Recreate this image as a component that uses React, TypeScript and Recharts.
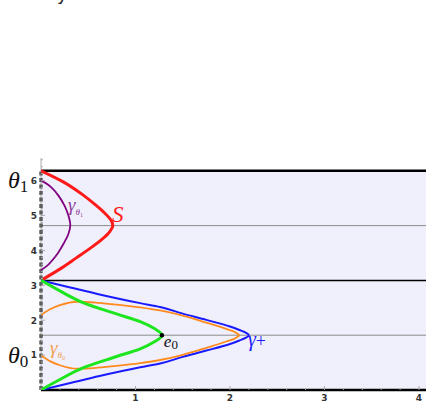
import {
  ReferenceArea,
  ReferenceLine,
  Scatter,
  ScatterChart,
  XAxis,
  YAxis,
} from 'recharts'

const HALF_PI = 1.5708
const PI = 3.1416
const THREE_HALF_PI = 4.7124
const TWO_PI = 6.2832
const X_MAX = 4.074
const Y_MAX = 6.65

const xTicks = [0, 0.2, 0.4, 0.6, 0.8, 1, 1.2, 1.4, 1.6, 1.8, 2, 2.2, 2.4, 2.6, 2.8, 3, 3.2, 3.4, 3.6, 3.8, 4]
const xLabels = [1, 2, 3, 4]
const yTicks = [
  0.2, 0.4, 0.6, 0.8, 1, 1.2, 1.4, 1.6, 1.8, 2, 2.2, 2.4, 2.6, 2.8, 3, 3.2, 3.4, 3.6, 3.8, 4,
  4.2, 4.4, 4.6, 4.8, 5, 5.2, 5.4, 5.6, 5.8, 6, 6.2, 6.4, 6.6,
]
const yLabels = [1, 2, 3, 4, 5, 6]

// curve S (red), between pi and 2pi
const sCurve = [
  { x: 0, y: 3.142 }, { x: 0.19, y: 3.45 }, { x: 0.37, y: 3.78 }, { x: 0.53, y: 4.08 },
  { x: 0.65, y: 4.33 }, { x: 0.73, y: 4.55 }, { x: 0.76, y: 4.71 }, { x: 0.74, y: 4.87 },
  { x: 0.67, y: 5.08 }, { x: 0.57, y: 5.32 }, { x: 0.44, y: 5.6 }, { x: 0.24, y: 5.96 },
  { x: 0, y: 6.283 },
]

// gamma theta1 (purple)
const gammaTheta1 = [
  { x: 0, y: 3.44 }, { x: 0.06, y: 3.55 }, { x: 0.12, y: 3.72 }, { x: 0.18, y: 3.93 },
  { x: 0.24, y: 4.2 }, { x: 0.29, y: 4.47 }, { x: 0.31, y: 4.73 }, { x: 0.29, y: 5.0 },
  { x: 0.25, y: 5.28 }, { x: 0.19, y: 5.55 }, { x: 0.12, y: 5.78 }, { x: 0.05, y: 5.93 },
  { x: 0, y: 6.0 },
]

// gamma plus (blue)
const gammaPlus = [
  { x: 0, y: 0 }, { x: 0.31, y: 0.2 }, { x: 0.62, y: 0.4 }, { x: 1.05, y: 0.65 },
  { x: 1.26, y: 0.76 }, { x: 1.5, y: 0.95 }, { x: 1.75, y: 1.13 }, { x: 2.0, y: 1.32 },
  { x: 2.1, y: 1.42 }, { x: 2.17, y: 1.5 }, { x: 2.2, y: 1.571 }, { x: 2.17, y: 1.64 },
  { x: 2.1, y: 1.72 }, { x: 2.0, y: 1.82 }, { x: 1.75, y: 2.01 }, { x: 1.5, y: 2.19 },
  { x: 1.26, y: 2.38 }, { x: 1.05, y: 2.49 }, { x: 0.62, y: 2.74 }, { x: 0.31, y: 2.94 },
  { x: 0, y: 3.142 },
]

// gamma theta0 (orange), upper and lower branch
const gammaTheta0Upper = [
  { x: 0, y: 2.15 }, { x: 0.1, y: 2.32 }, { x: 0.2, y: 2.43 }, { x: 0.38, y: 2.53 },
  { x: 0.6, y: 2.5 }, { x: 0.8, y: 2.45 }, { x: 1.05, y: 2.37 }, { x: 1.26, y: 2.28 },
  { x: 1.5, y: 2.13 }, { x: 1.75, y: 1.93 }, { x: 1.96, y: 1.75 }, { x: 2.06, y: 1.65 },
  { x: 2.1, y: 1.571 },
]
const gammaTheta0Lower = [
  { x: 2.1, y: 1.571 }, { x: 2.06, y: 1.49 }, { x: 1.96, y: 1.39 }, { x: 1.75, y: 1.21 },
  { x: 1.5, y: 1.01 }, { x: 1.26, y: 0.86 }, { x: 1.05, y: 0.77 }, { x: 0.8, y: 0.69 },
  { x: 0.6, y: 0.64 }, { x: 0.38, y: 0.61 }, { x: 0.2, y: 0.71 }, { x: 0.1, y: 0.82 },
  { x: 0, y: 1.0 },
]

// green curve through e0
const greenCurve = [
  { x: 0, y: 0 }, { x: 0.2, y: 0.3 }, { x: 0.45, y: 0.64 }, { x: 0.8, y: 0.96 },
  { x: 1.05, y: 1.18 }, { x: 1.2, y: 1.38 }, { x: 1.28, y: 1.571 }, { x: 1.2, y: 1.76 },
  { x: 1.05, y: 1.96 }, { x: 0.8, y: 2.18 }, { x: 0.45, y: 2.5 }, { x: 0.2, y: 2.84 },
  { x: 0, y: 3.142 },
]

const e0Point = [{ x: 1.28, y: 1.571 }]

const sLabelPos = [{ x: 0.75, y: 4.82 }]
const gTheta1LabelPos = [{ x: 0.286, y: 5.13 }]
const gTheta0LabelPos = [{ x: 0.095, y: 1.03 }]
const e0LabelPos = [{ x: 1.3, y: 1.23 }]
const gPlusLabelPos = [{ x: 2.19, y: 1.26 }]

const SERIF = '"Liberation Serif", "DejaVu Serif", serif'
const SANS = '"DejaVu Sans", "Liberation Sans", sans-serif'

function NoShape() {
  return <g />
}

function XTick({ x, y, payload }: any) {
  const v = payload.value
  const major = xLabels.includes(v)
  return (
    <g>
      <line x1={x} x2={x} y1={y} y2={y - (major ? 4 : 2)} stroke="#aaa" />
      {major && (
        <text x={x} y={y + 11} textAnchor="middle" fontSize={9} fontWeight="bold" fill="#333" fontFamily={SANS}>
          {v}
        </text>
      )}
    </g>
  )
}

function ThetaLabel({ x, y, sub }: { x: number; y: number; sub: string }) {
  return (
    <text x={x} y={y} fontFamily={SERIF} fill="#111">
      <tspan fontSize={24} fontStyle="italic">θ</tspan>
      <tspan fontSize={17} dy={4}>{sub}</tspan>
    </text>
  )
}

function YTick({ x, y, payload }: any) {
  const v = payload.value
  const major = yLabels.includes(v)
  return (
    <g>
      <line x1={x} x2={x + (major ? 4 : 2)} y1={y} y2={y} stroke="#aaa" />
      {major && (
        <text x={x - 4} y={y + 3.3} textAnchor="end" fontSize={9} fontWeight="bold" fill="#333" fontFamily={SANS}>
          {v}
        </text>
      )}
      {v === 6 && <ThetaLabel x={x - 33} y={y + 7.5} sub="1" />}
      {v === 1 && <ThetaLabel x={x - 33} y={y + 7.5} sub="0" />}
    </g>
  )
}

function makeGammaLabel(color: string, sub: string) {
  return function GammaLabel({ cx, cy }: any) {
    return (
      <text x={cx} y={cy} fill={color} fontFamily={SERIF}>
        <tspan fontSize={19} fontStyle="italic">γ</tspan>
        <tspan fontSize={9} fontStyle="italic" dy={4}>θ</tspan>
        <tspan fontSize={6} dy={1.5}>{sub}</tspan>
      </text>
    )
  }
}

function SLabel({ cx, cy }: any) {
  return (
    <text x={cx} y={cy} fill="#ff1a1a" fontFamily={SERIF} fontSize={23} fontStyle="italic">
      S
    </text>
  )
}

function E0Label({ cx, cy }: any) {
  return (
    <text x={cx} y={cy} fill="#111" fontFamily={SERIF}>
      <tspan fontSize={17} fontStyle="italic">e</tspan>
      <tspan fontSize={13} dy={2}>0</tspan>
    </text>
  )
}

function GPlusLabel({ cx, cy }: any) {
  return (
    <text x={cx} y={cy} fill="#1a1aff" fontFamily={SERIF}>
      <tspan fontSize={20} fontStyle="italic">γ</tspan>
      <tspan fontSize={18} dy={1}>+</tspan>
    </text>
  )
}

function Dot({ cx, cy }: any) {
  return <circle cx={cx} cy={cy} r={2.2} fill="#000" />
}

const curveLine = (stroke: string, strokeWidth: number) => ({ stroke, strokeWidth, fill: 'none' })

export default function App() {
  return (
    <div style={{ position: 'absolute', left: 0, top: 0, width: 426, height: 403 }}>
      <svg width={426} height={12} style={{ position: 'absolute', left: 0, top: 0 }}>
        <text x={57} y={0} fontSize={18} fontFamily={SANS} fill="#222">
          y
        </text>
      </svg>
      <ScatterChart width={426} height={403} margin={{ top: 158, right: 0, bottom: 0, left: 0 }}>
        <XAxis
          type="number"
          dataKey="x"
          domain={[0, X_MAX]}
          ticks={xTicks}
          tick={<XTick />}
          tickLine={false}
          axisLine={false}
          tickSize={0}
          tickMargin={0}
          interval={0}
          height={13}
          allowDataOverflow
        />
        <YAxis
          type="number"
          dataKey="y"
          domain={[0, Y_MAX]}
          ticks={yTicks}
          tick={<YTick />}
          tickLine={false}
          axisLine={{ stroke: '#aaa' }}
          tickSize={0}
          tickMargin={0}
          interval={0}
          width={41}
          allowDataOverflow
        />
        <ReferenceArea x1={0} x2={X_MAX} y1={0} y2={TWO_PI} fill="#f0f0fc" fillOpacity={1} stroke="none" />
        <ReferenceLine y={HALF_PI} stroke="#8c8c8c" strokeWidth={1} />
        <ReferenceLine y={THREE_HALF_PI} stroke="#8c8c8c" strokeWidth={1} />
        <ReferenceLine y={PI} stroke="#000" strokeWidth={1.5} />
        <ReferenceLine y={TWO_PI} stroke="#000" strokeWidth={2.5} />
        <ReferenceLine y={0} stroke="#000" strokeWidth={2.5} />

        <Scatter data={sCurve} line={curveLine('#ff1a1a', 3)} lineJointType="monotoneY" shape={NoShape} isAnimationActive={false} />
        <Scatter data={gammaTheta1} line={curveLine('#800080', 1.8)} lineJointType="monotoneY" shape={NoShape} isAnimationActive={false} />
        <Scatter data={gammaPlus} line={curveLine('#1a1aff', 2)} lineJointType="monotoneY" shape={NoShape} isAnimationActive={false} />
        <Scatter data={gammaTheta0Upper} line={curveLine('#ff8a1e', 1.8)} lineJointType="monotoneX" shape={NoShape} isAnimationActive={false} />
        <Scatter data={gammaTheta0Lower} line={curveLine('#ff8a1e', 1.8)} lineJointType="monotoneX" shape={NoShape} isAnimationActive={false} />
        <Scatter data={greenCurve} line={curveLine('#1ee61e', 3)} lineJointType="monotoneY" shape={NoShape} isAnimationActive={false} />

        <ReferenceLine
          segment={[{ x: 0, y: 0 }, { x: 0, y: TWO_PI }]}
          stroke="#111"
          strokeWidth={3}
          strokeDasharray="4 2.5"
        />

        <Scatter data={e0Point} shape={Dot} isAnimationActive={false} />
        <Scatter data={sLabelPos} shape={SLabel} isAnimationActive={false} />
        <Scatter data={gTheta1LabelPos} shape={makeGammaLabel('#9040a0', '1')} isAnimationActive={false} />
        <Scatter data={gTheta0LabelPos} shape={makeGammaLabel('#f0a050', '0')} isAnimationActive={false} />
        <Scatter data={e0LabelPos} shape={E0Label} isAnimationActive={false} />
        <Scatter data={gPlusLabelPos} shape={GPlusLabel} isAnimationActive={false} />
      </ScatterChart>
    </div>
  )
}
